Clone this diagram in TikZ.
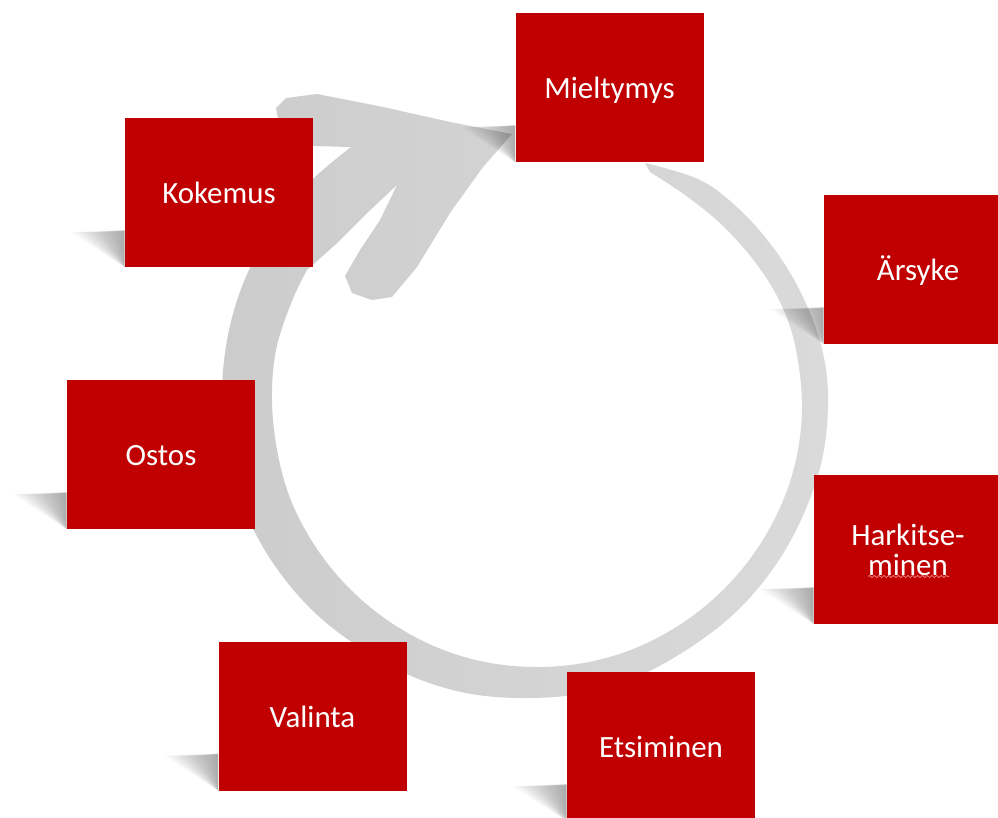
\documentclass[tikz,border=0pt]{standalone}
\usepackage{fontspec}
\setmainfont{Carlito}
\usetikzlibrary{calc,backgrounds,decorations.pathmorphing}
\definecolor{boxred}{RGB}{192,0,0}
\definecolor{ringgrayL}{RGB}{204,204,204}
\definecolor{ringgrayR}{RGB}{218,218,218}
\definecolor{squigpink}{RGB}{240,120,120}
\begin{document}
\begin{tikzpicture}[x=0.75pt,y=-0.75pt,
  stage/.style={rectangle, fill=boxred, minimum width=141pt, minimum height=111.75pt,
    inner sep=0pt, text=white, font=\fontsize{23.2}{22.5}\selectfont, align=center},
  oneline/.style={text height=23pt, text depth=5.8pt},
  shadowpiece/.style={fill=black, opacity=0.018},
  squig/.style={draw=squigpink, line width=0.6pt,
    decorate, decoration={snake, segment length=3.6pt, amplitude=0.8pt}}]
\useasboundingbox (0,0) rectangle (998,817);
\node[stage,oneline] (mie) at (609.5,87.5) {Mieltymys};
\node[stage,oneline] (kok) at (219,192.5) {Kokemus};
\node[stage,oneline] (ars) at (918,269.5) {Ärsyke};
\node[stage,oneline] (ost) at (161,454.5) {Ostos};
\node[stage] (har) at (908,549.5) {Harkitse-\\minen};
\node[stage,oneline] (val) at (312.5,716) {Valinta};
\node[stage,oneline] (ets) at (661,746.5) {Etsiminen};
\draw[squig] ($(har.center)+(-40,27)$) -- ($(har.center)+(41,27)$);
\begin{scope}[on background layer]
  \fill[white] (0,0) rectangle (998,817);
  \shade[left color=ringgrayL, right color=ringgrayR]
    plot[smooth, tension=0.6] coordinates {(645,163) (700,180) (740,210) (775,250) (802,295) (821,345) (828,395) (823,455) (805,511) (777,563) (739,609) (694,645) (641,675) (585,693) (525,698) (466,693) (409,675) (356,645) (311,609) (273,563) (245,511) (228,455) (222,395) (228,335) (245,279) (273,227) (311,181) (351,147)}
    -- (313,146) -- (290,146) -- (280,130) -- (276,108) -- (286,98) -- (317,94)
    -- (383,107) -- (450,122) -- (512,134)
    -- (483,167) -- (450,213) -- (417,267) -- (392,297) -- (372,300) -- (352,293) -- (345,276)
    -- (360,250) -- (380,220) -- (397,185)
    -- (365,215) -- (335,245) -- (307,270)
    -- plot[smooth, tension=0.6] coordinates {(307,270) (292,301) (276,350) (272,402) (278,455) (292,503) (317,549) (350,589) (390,622) (436,647) (485,662) (537,667) (589,662) (638,647) (684,622) (724,589) (757,549) (782,503) (797,455) (802,402) (795,345) (780,302) (755,262) (722,225) (685,195) (650,172)}
    -- cycle;
  \foreach \n in {mie,kok,ars,ost,har,val,ets}{
    \foreach \k in {54,51,...,3}{
      \fill[shadowpiece] ($(\n.south west)+(-\k,-35)$) -- ($(\n.south west)+(0,-37)$) -- (\n.south west) -- cycle;
    }
  }
\end{scope}
\end{tikzpicture}
\end{document}
